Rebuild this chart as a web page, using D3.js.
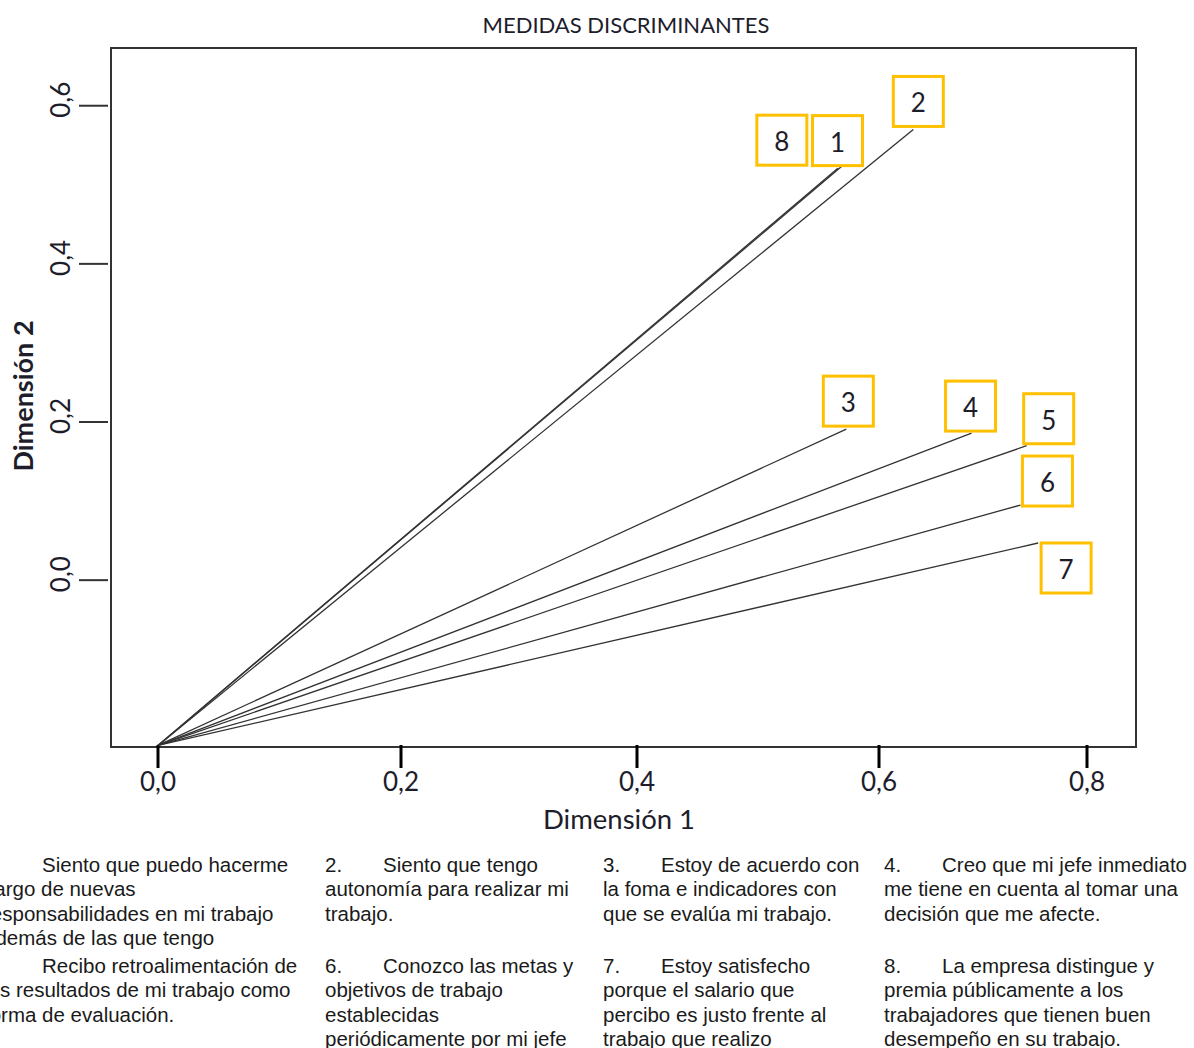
<!DOCTYPE html>
<html>
<head>
<meta charset="utf-8">
<script src="https://cdn.jsdelivr.net/npm/d3@7"></script>
<style>
  body { margin: 0; background: #fff; }
  svg { display: block; }
</style>
</head>
<body>
<script>
const width = 1194, height = 1048;

// discrimination measures
const items = ["1", "2", "3", "4", "5", "6", "7", "8"];
const dim1 = [0.569, 0.633, 0.573, 0.689, 0.742, 0.736, 0.753, 0.566];
const dim2 = [0.523, 0.570, 0.191, 0.186, 0.170, 0.095, 0.047, 0.521];
const origin = [0, -0.209];

const xTicks = [0, 0.2, 0.4, 0.6, 0.8];
const yTicks = [0, 0.2, 0.4, 0.6];

// where each numbered box sits relative to the line end (px)
const boxOffset = [[-4, -26], [5, -28], [2, -28], [-1, -27], [22, -27], [27, -24], [28, 25], [-56, -28]];

const notes = [
  {n: "1.", lines: ["Siento que puedo hacerme", "cargo de nuevas", "responsabilidades en mi trabajo", "además de las que tengo"]},
  {n: "2.", lines: ["Siento que tengo", "autonomía para realizar mi", "trabajo."]},
  {n: "3.", lines: ["Estoy de acuerdo con", "la foma e indicadores con", "que se evalúa mi trabajo."]},
  {n: "4.", lines: ["Creo que mi jefe inmediato", "me tiene en cuenta al tomar una", "decisión que me afecte."]},
  {n: "5.", lines: ["Recibo retroalimentación de", "los resultados de mi trabajo como", "forma de evaluación."]},
  {n: "6.", lines: ["Conozco las metas y", "objetivos de trabajo", "establecidas", "periódicamente por mi jefe"]},
  {n: "7.", lines: ["Estoy satisfecho", "porque el salario que", "percibo es justo frente al", "trabajo que realizo"]},
  {n: "8.", lines: ["La empresa distingue y", "premia públicamente a los", "trabajadores que tienen buen", "desempeño en su trabajo."]}
];

const svg = d3.select("body").append("svg").attr("width", width).attr("height", height);

const frame = {left: 111, top: 48, right: 1136, bottom: 747};

// the axis in the picture is not evenly spaced, so use a piecewise scale
const x = d3.scaleLinear().domain(xTicks).range([158, 401, 637, 879, 1087]);
const y = d3.scaleLinear().domain([-0.211, 0.673]).range([frame.bottom, frame.top]);

const fmt = d3.formatLocale({decimal: ",", thousands: ".", grouping: [3], currency: ["", ""]}).format(".1f");

// title
svg.append("text")
   .attr("x", 626).attr("y", 33)
   .attr("text-anchor", "middle")
   .style("font-family", "Lato, 'Open Sans', sans-serif")
   .style("font-size", "22px")
   .style("fill", "#1d1d2b")
   .text("MEDIDAS DISCRIMINANTES");

// frame
svg.append("rect")
   .attr("x", frame.left).attr("y", frame.top)
   .attr("width", frame.right - frame.left).attr("height", frame.bottom - frame.top)
   .style("fill", "none").style("stroke", "#333").style("stroke-width", 2);

// y ticks
const yAxis = svg.append("g");
yAxis.selectAll("line").data(yTicks).enter().append("line")
     .attr("x1", 79).attr("x2", 108)
     .attr("y1", d => y(d)).attr("y2", d => y(d))
     .style("stroke", "#333").style("stroke-width", 2);
yAxis.selectAll("text").data(yTicks).enter().append("text")
     .attr("transform", d => `translate(70, ${y(d) - 6}) rotate(-90)`)
     .attr("text-anchor", "middle")
     .style("font-family", "Lato, 'Open Sans', sans-serif")
     .style("font-size", "26px")
     .style("fill", "#1d1d2b")
     .text(d => fmt(d));

// x ticks
const xAxis = svg.append("g");
xAxis.selectAll("line").data(xTicks).enter().append("line")
     .attr("x1", d => x(d)).attr("x2", d => x(d))
     .attr("y1", 745).attr("y2", 768)
     .style("stroke", "#000").style("stroke-width", 3);
xAxis.selectAll("text").data(xTicks).enter().append("text")
     .attr("x", d => x(d)).attr("y", 791)
     .attr("text-anchor", "middle")
     .style("font-family", "Lato, 'Open Sans', sans-serif")
     .style("font-size", "26px")
     .style("fill", "#1d1d2b")
     .text(d => fmt(d));

// axis titles
svg.append("text")
   .attr("x", 619).attr("y", 829)
   .attr("text-anchor", "middle")
   .style("font-family", "Lato, 'Open Sans', sans-serif")
   .style("font-size", "27.5px")
   .style("fill", "#1d1d2b")
   .text("Dimensión 1");

svg.append("text")
   .attr("transform", "translate(33, 396) rotate(-90)")
   .attr("text-anchor", "middle")
   .style("font-family", "Lato, 'Open Sans', sans-serif")
   .style("font-size", "27px")
   .style("font-weight", "bold")
   .style("fill", "#1d1d2b")
   .text("Dimensión 2");

// vectors from the origin
const data = items.map((k, i) => ({k, d1: dim1[i], d2: dim2[i], off: boxOffset[i]}));

svg.append("g").selectAll("line").data(data).enter().append("line")
   .attr("x1", x(origin[0])).attr("y1", y(origin[1]))
   .attr("x2", d => x(d.d1)).attr("y2", d => y(d.d2))
   .style("stroke", "#333").style("stroke-width", 1.3);

// numbered boxes
const boxSize = 50;
const box = svg.append("g").selectAll("g").data(data).enter().append("g")
   .attr("transform", d => `translate(${x(d.d1) + d.off[0]}, ${y(d.d2) + d.off[1]})`);

box.append("rect")
   .attr("x", -boxSize / 2).attr("y", -boxSize / 2)
   .attr("width", boxSize).attr("height", boxSize)
   .style("fill", "#fff").style("stroke", "#ffc000").style("stroke-width", 3);

box.append("text")
   .attr("y", 11)
   .attr("text-anchor", "middle")
   .style("font-family", "Lato, 'Open Sans', sans-serif")
   .style("font-size", "26px")
   .style("fill", "#1d1d2b")
   .text(d => d.k);

// footnotes under the chart (first column is clipped by the page edge, as in the source)
const colLeft = [-16, 325, 603, 884];
const rowTop = [872, 973];
const lineGap = 24.3;

const note = svg.append("g").selectAll("g").data(notes).enter().append("g")
   .attr("transform", (d, i) => `translate(${colLeft[i % 4]}, ${rowTop[Math.floor(i / 4)]})`)
   .style("font-family", "'Liberation Sans', Arial, sans-serif")
   .style("font-size", "20.5px")
   .style("fill", "#1a1a1a");

note.append("text").attr("x", 0).attr("y", 0).text(d => d.n);

note.each(function(d) {
  d3.select(this).selectAll("text.l").data(d.lines).enter().append("text")
    .attr("class", "l")
    .attr("x", (t, j) => j === 0 ? 58 : 0)
    .attr("y", (t, j) => j * lineGap)
    .text(t => t);
});
</script>
</body>
</html>
